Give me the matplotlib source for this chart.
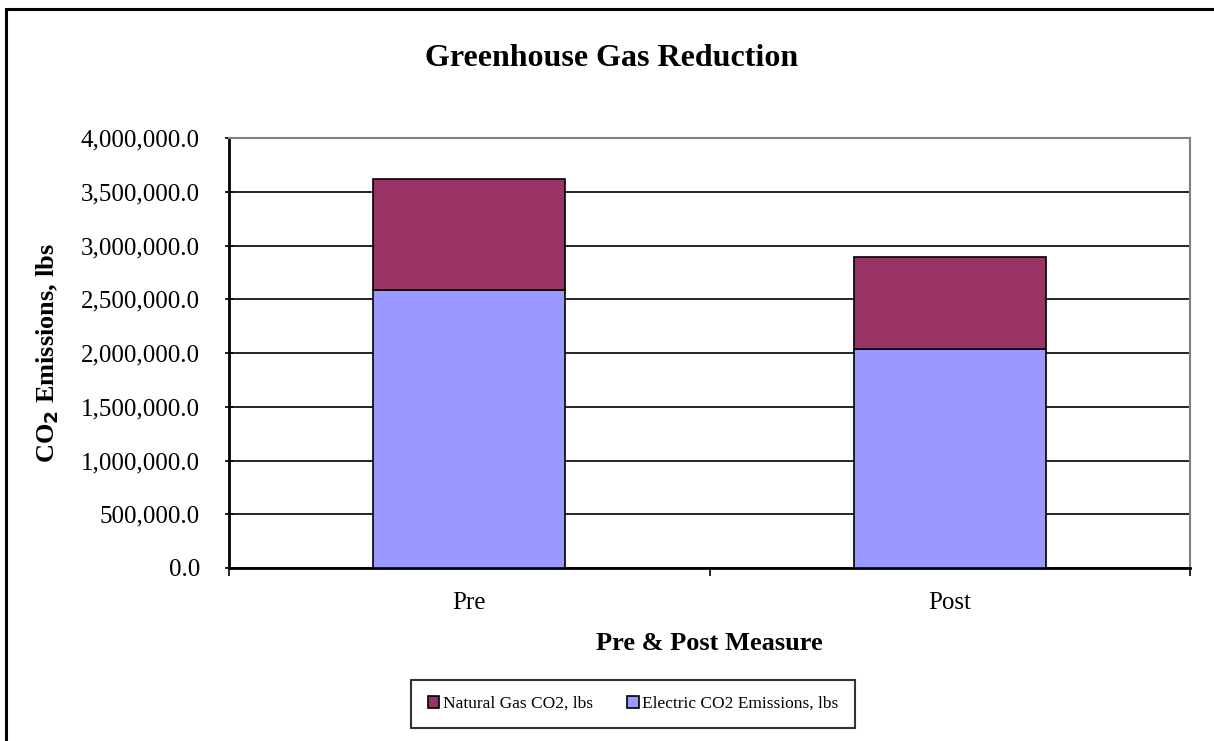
import matplotlib.pyplot as plt
from matplotlib.patches import Rectangle
from matplotlib.ticker import FuncFormatter

categories = ['Pre', 'Post']
electric = [2590000, 2040000]
natural_gas = [1030000, 850000]

plt.rcParams['font.family'] = ['Liberation Serif', 'DejaVu Serif']

fig = plt.figure(figsize=(12.14, 7.41), dpi=100)
ax = fig.add_axes([229 / 1214, 1 - 568 / 741, (1190 - 229) / 1214, (568 - 138) / 741])

# outer chart border (runs off the right and bottom edges)
fig.patches.append(Rectangle((6 / 1214, -0.05), 1.2, 1 - 9 / 741 + 0.05,
                             transform=fig.transFigure, fill=False,
                             edgecolor='black', linewidth=2.2))

x = list(range(len(categories)))
ax.bar(x, electric, width=0.4, color='#9999FF', edgecolor='black', linewidth=1.2,
       label='Electric CO2 Emissions, lbs', zorder=3)
ax.bar(x, natural_gas, width=0.4, bottom=electric, color='#993366', edgecolor='black',
       linewidth=1.2, label='Natural Gas CO2, lbs', zorder=3)

ax.set_xlim(-0.5, 1.5)
ax.set_ylim(0, 4000000)
ax.set_yticks(range(0, 4000001, 500000))
ax.yaxis.set_major_formatter(FuncFormatter(lambda v, p: f'{v:,.1f}'))
ax.set_xticks(x)
ax.set_xticklabels(categories)
ax.set_xticks([-0.5, 0.5, 1.5], minor=True)
ax.tick_params(axis='x', which='major', length=0, pad=17, labelsize=18)
ax.tick_params(axis='x', which='minor', length=6, width=1.2, direction='out')
ax.tick_params(axis='y', length=6, width=1.2, direction='inout', labelsize=18, pad=18)

ax.grid(axis='y', color='black', linewidth=1.2, zorder=0)
ax.set_axisbelow(True)
ax.spines['left'].set_linewidth(2)
ax.spines['bottom'].set_linewidth(2)
ax.spines['top'].set_color('#808080')
ax.spines['right'].set_color('#808080')
ax.spines['top'].set_linewidth(1.5)
ax.spines['right'].set_linewidth(1.5)

ax.set_xlabel('Pre & Post Measure', fontsize=19, fontweight='bold', labelpad=13)
ax.set_ylabel('CO$_\\mathbf{2}$ Emissions, lbs', fontsize=19, fontweight='bold', labelpad=14)
fig.suptitle('Greenhouse Gas Reduction', fontsize=23, fontweight='bold',
             x=612 / 1214, y=1 - 59 / 741, va='center')

handles, labels = ax.get_legend_handles_labels()
leg = fig.legend(handles[::-1], labels[::-1], loc='center', bbox_to_anchor=(633 / 1214, 1 - 704 / 741),
                 ncol=2, fontsize=12.5, frameon=True, fancybox=False, edgecolor='black',
                 handlelength=0.65, handleheight=0.65, handletextpad=0.2, columnspacing=2.0,
                 borderpad=0.95)
leg.get_frame().set_linewidth(1.5)

fig.savefig('out.png', dpi=100)
